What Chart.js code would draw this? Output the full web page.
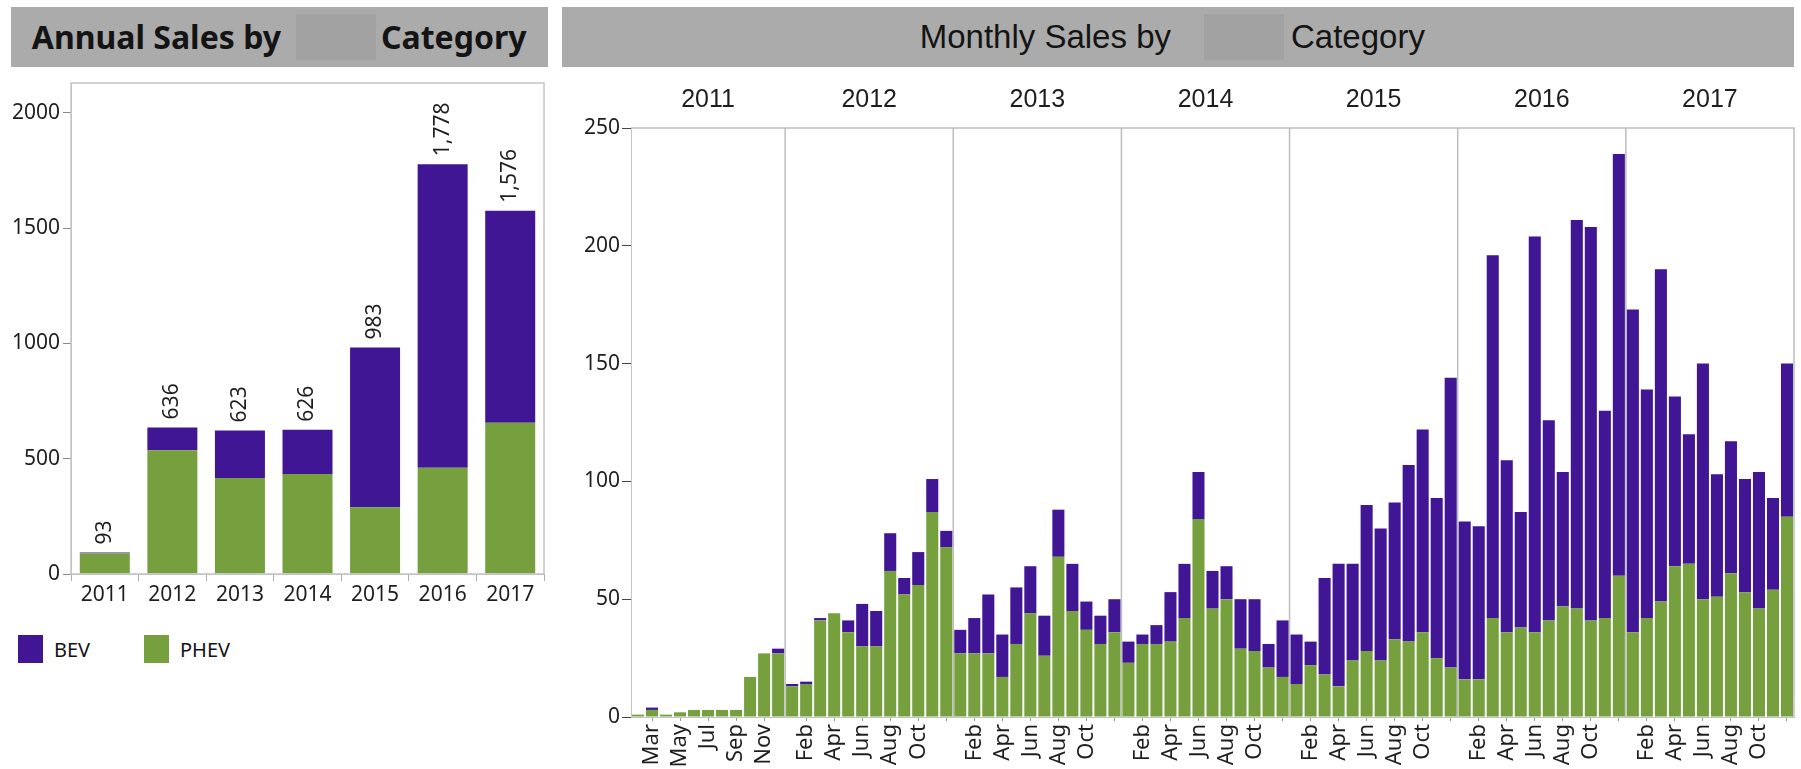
<!DOCTYPE html>
<html>
<head>
<meta charset="utf-8">
<script src="https://cdn.jsdelivr.net/npm/chart.js@4.4.1/dist/chart.umd.min.js"></script>
<style>
  body { margin: 0; width: 1801px; height: 769px; background: #fff; position: relative; overflow: hidden; font-family: "Noto Sans", sans-serif; }
  .head { position: absolute; top: 7px; height: 60px; background: #ababab; color: #141414; white-space: nowrap; }
  .mask { position: absolute; top: 7px; width: 80px; height: 46px; background: #a2a2a2; }
  .ht { position: absolute; top: 0; height: 60px; line-height: 60px; }
  #headLeft { left: 11px; width: 537px; font-weight: bold; font-size: 32px; }
  #headRight { left: 562px; width: 1232px; font-family: "Liberation Sans", sans-serif; font-size: 33px; }
  canvas { position: absolute; }
  #annual { left: 0; top: 40px; }
  #monthly { left: 560px; top: 70px; }
  .legend { position: absolute; top: 635px; height: 28px; display: flex; align-items: center; font-size: 20px; color: #141414; }
  .legend i { display: inline-block; width: 25px; height: 28px; margin-right: 11px; }
</style>
</head>
<body>
<div class="head" id="headLeft">
  <span class="ht" style="right:267px">Annual Sales by</span>
  <span class="mask" style="left:285px"></span>
  <span class="ht" style="left:370px">Category</span>
</div>
<div class="head" id="headRight">
  <span class="ht" style="right:623px">Monthly Sales by</span>
  <span class="mask" style="left:642px"></span>
  <span class="ht" style="left:729px">Category</span>
</div>
<canvas id="annual" width="560" height="590"></canvas>
<canvas id="monthly" width="1241" height="699"></canvas>
<div class="legend" style="left:18px"><i style="background:#401694"></i>BEV</div>
<div class="legend" style="left:144px"><i style="background:#76a03e"></i>PHEV</div>
<script>
const BEV_COLOR = "#401694";
const PHEV_COLOR = "#76a03e";

// annual totals per category
const annualYears = ["2011", "2012", "2013", "2014", "2015", "2016", "2017"];
const annualPHEV = [90, 537, 416, 434, 290, 461, 656];
const annualBEV = [3, 99, 207, 192, 693, 1317, 920];

// monthly, Feb 2011 .. Dec 2017
const monthNames = ["Jan", "Feb", "Mar", "Apr", "May", "Jun", "Jul", "Aug", "Sep", "Oct", "Nov", "Dec"];
const firstMonth2011 = 1; // data starts in Feb 2011
const phevMonthly = [
  1, 3, 1, 2, 3, 3, 3, 3, 17, 27, 27,
  13, 14, 41, 44, 36, 30, 30, 62, 52, 56, 87, 72,
  27, 27, 27, 17, 31, 44, 26, 68, 45, 37, 31, 36,
  23, 31, 31, 32, 42, 84, 46, 50, 29, 28, 21, 17,
  14, 22, 18, 13, 24, 28, 24, 33, 32, 36, 25, 21,
  16, 16, 42, 36, 38, 36, 41, 47, 46, 41, 42, 60,
  36, 42, 49, 64, 65, 50, 51, 61, 53, 46, 54, 85
];
const bevMonthly = [
  0, 1, 0, 0, 0, 0, 0, 0, 0, 0, 2,
  1, 1, 1, 0, 5, 18, 15, 16, 7, 14, 14, 7,
  10, 15, 25, 18, 24, 20, 17, 20, 20, 12, 12, 14,
  9, 4, 8, 21, 23, 20, 16, 14, 21, 22, 10, 24,
  21, 10, 41, 52, 41, 62, 56, 58, 75, 86, 68, 123,
  67, 65, 154, 73, 49, 168, 85, 57, 165, 167, 88, 179,
  137, 97, 141, 72, 55, 100, 52, 56, 48, 58, 39, 65
];
// which months get a tick mark / a label on the month axis
const tickMonths2011 = ["Mar", "May", "Jul", "Sep", "Nov"];
const tickMonths = ["Feb", "Apr", "Jun", "Aug", "Oct", "Dec"];
const hiddenTickLabels = ["Dec"];

const annualTicks = [0, 500, 1000, 1500, 2000];
const monthlyTicks = [0, 50, 100, 150, 200, 250];

// build month categories
const monthCats = [], monthYear = [], monthLabels = [], monthHasTick = [];
annualYears.forEach((y, yi) => {
  for (let m = (yi === 0 ? firstMonth2011 : 0); m < 12; m++) {
    const name = monthNames[m];
    const ticked = yi === 0 ? tickMonths2011.includes(name) : tickMonths.includes(name);
    monthCats.push(name + " " + y);
    monthYear.push(y);
    monthHasTick.push(ticked);
    monthLabels.push(ticked && !hiddenTickLabels.includes(name) ? name : "");
  }
});

const tickFont = { family: "Noto Sans", size: 21 };

// box round the annual plot + totals on top of the bars
const annualExtras = {
  id: "annualExtras",
  afterDatasetsDraw(chart) {
    const { ctx, chartArea: a } = chart;
    ctx.save();
    ctx.strokeStyle = "#c4c4c4";
    ctx.lineWidth = 1.5;
    ctx.strokeRect(a.left, a.top, a.right - a.left, a.bottom - a.top);
    const top = chart.getDatasetMeta(1);
    ctx.font = '21px "Noto Sans"';
    ctx.fillStyle = "#1e1e1e";
    ctx.textAlign = "left";
    ctx.textBaseline = "middle";
    top.data.forEach((bar, i) => {
      const total = annualPHEV[i] + annualBEV[i];
      ctx.save();
      ctx.translate(bar.x, bar.y - 8);
      ctx.rotate(-Math.PI / 2);
      ctx.fillText(total.toLocaleString("en-US"), 0, 0);
      ctx.restore();
    });
    ctx.restore();
  }
};

new Chart(document.getElementById("annual"), {
  type: "bar",
  data: {
    labels: annualYears,
    datasets: [
      { label: "PHEV", data: annualPHEV, backgroundColor: PHEV_COLOR, order: 0 },
      { label: "BEV", data: annualBEV, backgroundColor: BEV_COLOR, order: 1 }
    ]
  },
  options: {
    responsive: false,
    animation: false,
    devicePixelRatio: 1,
    layout: { padding: { top: 43, right: 16, left: 0, bottom: 0 } },
    plugins: { legend: { display: false }, tooltip: { enabled: false } },
    datasets: { bar: { barPercentage: 0.74, categoryPercentage: 1 } },
    scales: {
      x: {
        stacked: true,
        grid: { offset: true, drawOnChartArea: false, tickLength: 7, tickColor: "#aaa" },
        border: { color: "#c4c4c4" },
        ticks: { color: "#1e1e1e", font: tickFont, padding: 1, maxRotation: 0 },
        afterFit(s) { s.height = 56; }
      },
      y: {
        stacked: true,
        min: 0,
        max: 2130,
        grid: { drawOnChartArea: false, tickLength: 8, tickColor: "#888" },
        border: { color: "#c4c4c4" },
        ticks: { color: "#1e1e1e", font: tickFont, padding: 3, callback: v => String(v) },
        afterBuildTicks(s) { s.ticks = annualTicks.map(v => ({ value: v })); },
        afterFit(s) { s.width = 71; }
      }
    }
  },
  plugins: [annualExtras]
});

// year separators, year labels and the frame of the monthly plot
const yearBands = {
  id: "yearBands",
  beforeDatasetsDraw(chart) {
    const { ctx, chartArea: a, scales: { x } } = chart;
    ctx.save();
    ctx.strokeStyle = "#bdbdbd";
    ctx.lineWidth = 1.5;
    ctx.beginPath();
    ctx.moveTo(a.left, a.top); ctx.lineTo(a.right, a.top); ctx.lineTo(a.right, a.bottom);
    for (let i = 1; i < monthCats.length; i++) {
      if (monthYear[i] !== monthYear[i - 1]) {
        const px = (x.getPixelForValue(i - 1) + x.getPixelForValue(i)) / 2;
        ctx.moveTo(px, a.top); ctx.lineTo(px, a.bottom);
      }
    }
    ctx.stroke();
    ctx.fillStyle = "#1e1e1e";
    ctx.font = '25px "Liberation Sans"';
    ctx.textAlign = "center";
    ctx.textBaseline = "middle";
    const half = (x.getPixelForValue(1) - x.getPixelForValue(0)) / 2;
    annualYears.forEach(y => {
      const first = monthYear.indexOf(y), last = monthYear.lastIndexOf(y);
      const cx = (x.getPixelForValue(first) - half + x.getPixelForValue(last) + half) / 2;
      ctx.fillText(y, cx, 30);
    });
    ctx.restore();
  }
};

new Chart(document.getElementById("monthly"), {
  type: "bar",
  data: {
    labels: monthCats,
    datasets: [
      { label: "PHEV", data: phevMonthly, backgroundColor: PHEV_COLOR, order: 0 },
      { label: "BEV", data: bevMonthly, backgroundColor: BEV_COLOR, order: 1 }
    ]
  },
  options: {
    responsive: false,
    animation: false,
    devicePixelRatio: 1,
    layout: { padding: { top: 58, right: 7, left: 0, bottom: 0 } },
    plugins: { legend: { display: false }, tooltip: { enabled: false } },
    datasets: { bar: { barPercentage: 0.86, categoryPercentage: 1 } },
    scales: {
      x: {
        stacked: true,
        grid: {
          offset: false, drawOnChartArea: false, tickLength: 4,
          tickColor: c => monthHasTick[c.index] ? "#999" : "rgba(0,0,0,0)"
        },
        border: { color: "#c4c4c4" },
        ticks: {
          autoSkip: false, minRotation: 90, maxRotation: 90, padding: 3,
          color: "#1e1e1e", font: { family: "Noto Sans", size: 22 },
          callback: (v, i) => monthLabels[i]
        },
        afterFit(s) { s.height = 52; s.paddingLeft = 0; s.paddingRight = 0; }
      },
      y: {
        stacked: true,
        min: 0,
        max: 250,
        grid: { drawOnChartArea: false, tickLength: 9, tickColor: "#444" },
        border: { color: "#c4c4c4" },
        ticks: { color: "#1e1e1e", font: { family: "Noto Sans", size: 21 }, padding: 2 },
        afterBuildTicks(s) { s.ticks = monthlyTicks.map(v => ({ value: v })); },
        afterFit(s) { s.width = 71; }
      }
    }
  },
  plugins: [yearBands]
});
</script>
</body>
</html>
